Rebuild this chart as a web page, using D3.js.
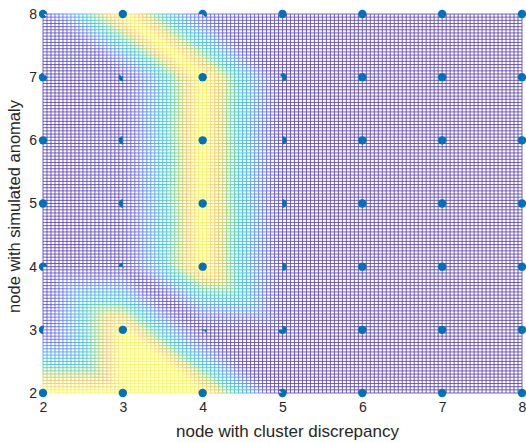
<!DOCTYPE html>
<html>
<head>
<meta charset="utf-8">
<script src="https://cdn.jsdelivr.net/npm/d3@7"></script>
<style>
  html, body { margin: 0; padding: 0; background: #fff; }
  svg { display: block; }
  text { font-family: "Liberation Sans", Arial, Helvetica, sans-serif; fill: #262626; }
</style>
</head>
<body>
<svg id="chart" width="526" height="443"></svg>
<script>
// ---- data (values at integer nodes, normalized 0..1) ----
const xNodes = [2, 3, 4, 5, 6, 7, 8];      // node with cluster discrepancy
const yNodes = [2, 3, 4, 5, 6, 7, 8];      // node with simulated anomaly
// one array per y node (value for x = 2..8)
const rowY2 = [1.00, 1.00, 1.00, 0.02, 0.00, 0.00, 0.00];
const rowY3 = [0.10, 1.00, 0.00, 0.03, 0.00, 0.00, 0.00];
const rowY4 = [0.00, 0.05, 1.00, 0.03, 0.00, 0.00, 0.00];
const rowY5 = [0.00, 0.05, 1.00, 0.03, 0.00, 0.00, 0.00];
const rowY6 = [0.00, 0.05, 1.00, 0.03, 0.00, 0.00, 0.00];
const rowY7 = [0.00, 0.05, 1.00, 0.02, 0.00, 0.00, 0.00];
const rowY8 = [0.08, 1.00, 0.15, 0.06, 0.00, 0.00, 0.00];
const xTicks = [2, 3, 4, 5, 6, 7, 8];
const yTicks = [2, 3, 4, 5, 6, 7, 8];
const xLabel = "node with cluster discrepancy";
const yLabel = "node with simulated anomaly";
const meshStep = 0.05;

// parula colormap anchors
const parulaStops = [
  [0.2422,0.1504,0.6603],[0.2706,0.2147,0.8364],[0.2813,0.3006,0.9414],[0.2699,0.3892,0.9906],
  [0.1963,0.4847,0.9892],[0.1687,0.5703,0.9359],[0.1248,0.6459,0.8883],[0.0297,0.7082,0.8163],
  [0.0964,0.7500,0.7120],[0.2161,0.7843,0.5923],[0.3909,0.8029,0.4354],[0.6174,0.7876,0.2612],
  [0.8203,0.7498,0.1535],[0.9728,0.7298,0.2394],[0.9892,0.8136,0.1885],[0.9597,0.9135,0.1423],
  [0.9769,0.9839,0.0805]
];

const grid = [rowY2, rowY3, rowY4, rowY5, rowY6, rowY7, rowY8];

const svg = d3.select("#chart");
const x = d3.scaleLinear().domain([2, 8]).range([43, 522]);
const y = d3.scaleLinear().domain([2, 8]).range([393, 14]);
const zDomain = [0, 1];

const parulaInterp = d3.interpolateRgbBasis(parulaStops.map(c => d3.rgb(c[0]*255, c[1]*255, c[2]*255)));
const nColors = 64;
const colorOf = i => parulaInterp(i / (nColors - 1));
const zScale = d3.scalePow().exponent(1.3).domain(zDomain).range([0, nColors - 1]).clamp(true);

// triangle-based interpolation (diagonal from (x, y+1) to (x+1, y)), lightly smoothed
function sm(w) { return 0.8 * w + 0.2 * w * w * (3 - 2 * w); }
function f(px, py) {
  let i = Math.min(Math.floor(px - 2), 5), j = Math.min(Math.floor(py - 2), 5);
  i = Math.max(i, 0); j = Math.max(j, 0);
  const u = px - 2 - i, v = py - 2 - j;
  const A = grid[j][i], B = grid[j][i + 1], C = grid[j + 1][i], D = grid[j + 1][i + 1];
  let ws, vs;
  if (u + v <= 1) { ws = [1 - u - v, u, v]; vs = [A, B, C]; }
  else { ws = [u + v - 1, 1 - v, 1 - u]; vs = [D, B, C]; }
  let s = 0, t = 0;
  for (let k = 0; k < 3; k++) { const w = sm(Math.max(0, Math.min(1, ws[k]))); s += w * vs[k]; t += w; }
  return s / t;
}

// mesh lines grouped by colour index
const n = Math.round(6 / meshStep) + 1;
const q = d3.range(n).map(k => 2 + k * meshStep);
const paths = d3.range(nColors).map(() => d3.path());
const val = q.map(yy => q.map(xx => f(xx, yy)));
for (let r = 0; r < n; r++) {
  for (let c = 0; c < n; c++) {
    if (c < n - 1) {
      const ci = Math.round(zScale((val[r][c] + val[r][c + 1]) / 2));
      paths[ci].moveTo(x(q[c]), y(q[r])); paths[ci].lineTo(x(q[c + 1]), y(q[r]));
    }
    if (r < n - 1) {
      const ci = Math.round(zScale((val[r][c] + val[r + 1][c]) / 2));
      paths[ci].moveTo(x(q[c]), y(q[r])); paths[ci].lineTo(x(q[c]), y(q[r + 1]));
    }
  }
}
svg.append("rect").attr("x", x(2)).attr("y", y(8)).attr("width", x(8) - x(2)).attr("height", y(2) - y(8)).attr("fill", "#fff");
svg.append("g").selectAll("path").data(paths).join("path")
  .attr("d", p => p.toString())
  .attr("fill", "none")
  .attr("stroke", (p, i) => colorOf(i))
  .attr("stroke-width", 1)
  .attr("stroke-opacity", 0.72);

// dots (hidden where the surface lies above them)
const defs = svg.append("defs");
const dotR = 4.2;
const dots = [];
yNodes.forEach((yy, j) => xNodes.forEach((xx, i) => dots.push({ x: xx, y: yy, v: grid[j][i] })));
const dg = svg.append("g");
dots.forEach((d, k) => {
  const cx = x(d.x), cy = y(d.y);
  const clip = d3.path();
  let hidden = 0;
  for (let dy = -5; dy <= 4; dy++) for (let dx = -5; dx <= 4; dx++) {
    const px = cx + dx + 0.5, py = cy + dy + 0.5;
    const X = x.invert(px), Y = y.invert(py);
    const inside = X >= 2 && X <= 8 && Y >= 2 && Y <= 8;
    if (inside && f(X, Y) > d.v + 0.003) hidden++;
    else clip.rect(cx + dx, cy + dy, 1, 1);
  }
  const c = dg.append("circle").attr("cx", cx).attr("cy", cy).attr("r", dotR).attr("fill", "#0072BD");
  if (hidden > 0) {
    const id = "clip" + k;
    defs.append("clipPath").attr("id", id).append("path").attr("d", clip.toString());
    c.attr("clip-path", `url(#${id})`);
  }
});

// axes
const xAxis = svg.append("g").attr("transform", `translate(0,${y(2) + 4})`)
  .call(d3.axisBottom(x).tickValues(xTicks).tickSize(0).tickPadding(5).tickFormat(d3.format("d")));
const yAxis = svg.append("g").attr("transform", `translate(${x(2) - 4},0)`)
  .call(d3.axisLeft(y).tickValues(yTicks).tickSize(0).tickPadding(2).tickFormat(d3.format("d")));
[xAxis, yAxis].forEach(a => {
  a.select(".domain").remove();
  a.selectAll("text").style("font-family", '"Liberation Sans", Arial, sans-serif').attr("fill", "#262626").style("font-size", "14px");
});

svg.append("text").attr("x", 287.5).attr("y", 437)
  .attr("text-anchor", "middle").style("font-size", "17px").text(xLabel);
svg.append("text").attr("transform", `translate(20,${(y(2) + y(8)) / 2 + 3}) rotate(-90)`)
  .attr("text-anchor", "middle").style("font-size", "16.5px").text(yLabel);
</script>
</body>
</html>
